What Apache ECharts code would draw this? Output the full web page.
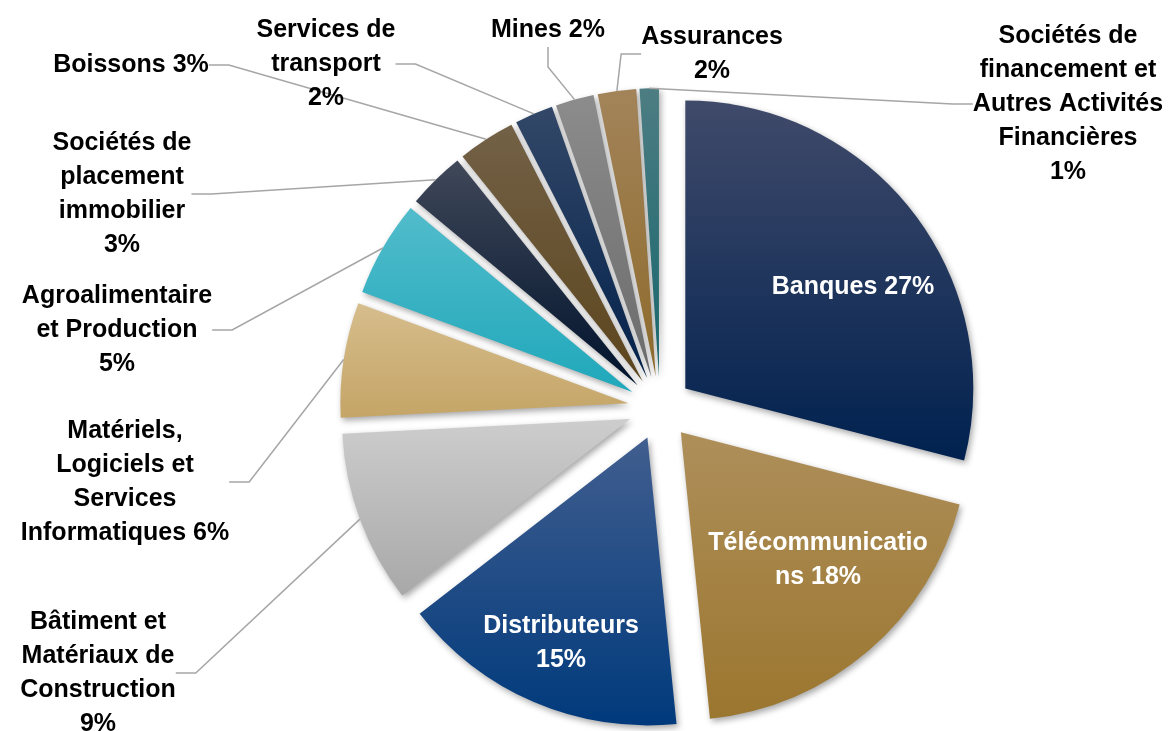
<!DOCTYPE html>
<html>
<head>
<meta charset="utf-8">
<script src="https://cdn.jsdelivr.net/npm/echarts@6/dist/echarts.min.js"></script>
<style>
  html, body { margin: 0; padding: 0; background: #fff; }
  #chart { width: 1168px; height: 731px; }
</style>
</head>
<body>
<div id="chart"></div>
<script>
// sectors, clockwise from 12 o'clock
const categories = [
  'Banques', 'Télécommunications', 'Distributeurs',
  'Bâtiment et Matériaux de Construction',
  'Matériels, Logiciels et Services Informatiques',
  'Agroalimentaire et Production', 'Sociétés de placement immobilier',
  'Boissons', 'Services de transport', 'Mines', 'Assurances',
  'Sociétés de financement et Autres Activités Financières'
]
const shares = [27, 18, 15, 9, 6, 5, 3, 3, 2, 2, 2, 1]

// label text wrapped as in the original (value appended after the separator)
const labelNames = [
  'Banques', 'Télécommunicatio\nns', 'Distributeurs',
  'Bâtiment et\nMatériaux de\nConstruction',
  'Matériels,\nLogiciels et\nServices\nInformatiques',
  'Agroalimentaire\net Production', 'Sociétés de\nplacement\nimmobilier',
  'Boissons', 'Services de\ntransport', 'Mines', 'Assurances',
  'Sociétés de\nfinancement et\nAutres Activités\nFinancières'
]
const valueSep = [' ', ' ', '\n', '\n', ' ', '\n', '\n', ' ', '\n', ' ', '\n', '\n']

// top / bottom colours of each sector gradient
const colors = [
  ['#404a6a', '#00214f'],
  ['#ae8f5a', '#9b762f'],
  ['#415e8f', '#003a7c'],
  ['#cdcdcd', '#a8a8a8'],
  ['#d6bd8c', '#c5a567'],
  ['#52bccb', '#1fa8bb'],
  ['#404859', '#00122c'],
  ['#736147', '#5c451d'],
  ['#334868', '#03214b'],
  ['#8c8c8c', '#6b6b6b'],
  ['#a3845a', '#8d6a2b'],
  ['#4d7d83', '#15666c']
]

// label block centres (px)
const labelPos = [
  [853, 287], [818, 560], [561, 643], [98, 673], [125, 482], [117, 330],
  [122, 194], [131, 65], [326, 64], [548, 30], [712, 54], [1068, 104]
]

const CENTER = [660, 408]
const RADIUS = 288
const EXPLODE = 32

const chart = echarts.init(document.getElementById('chart'))

chart.setOption({
  backgroundColor: '#fff',
  animation: false,
  series: [{
    // exploded sectors
    type: 'pie',
    z: 2,
    center: CENTER,
    radius: [0, RADIUS],
    startAngle: 90,
    selectedMode: 'multiple',
    selectedOffset: EXPLODE,
    silent: true,
    itemStyle: {
      shadowBlur: 6,
      shadowOffsetX: 2,
      shadowOffsetY: 3,
      shadowColor: 'rgba(0, 0, 0, 0.35)'
    },
    label: { show: false },
    labelLine: { show: false },
    data: categories.map((name, i) => ({
      name: name,
      value: shares[i],
      selected: true,
      itemStyle: {
        color: new echarts.graphic.LinearGradient(0, 0, 0, 1, [
          { offset: 0, color: colors[i][0] },
          { offset: 1, color: colors[i][1] }
        ])
      }
    }))
  }, {
    // labels + leader lines over an invisible ring matching the exploded outline
    type: 'pie',
    z: 3,
    center: CENTER,
    radius: [0, RADIUS + EXPLODE],
    startAngle: 90,
    silent: true,
    avoidLabelOverlap: false,
    itemStyle: { color: 'rgba(0,0,0,0)' },
    label: {
      show: true,
      position: 'outside',
      fontFamily: 'Liberation Sans',
      fontWeight: 'bold',
      fontSize: 25,
      lineHeight: 34,
      color: '#000',
      align: 'center',
      formatter: (p) => labelNames[p.dataIndex] + valueSep[p.dataIndex] + p.value + '%'
    },
    labelLine: {
      show: true,
      length: 20,
      length2: 20,
      lineStyle: { color: '#a6a6a6', width: 1.5 }
    },
    labelLayout: (p) => ({
      x: labelPos[p.dataIndex][0],
      y: labelPos[p.dataIndex][1],
      align: 'center',
      verticalAlign: 'middle'
    }),
    data: categories.map((name, i) => ({
      name: name,
      value: shares[i],
      label: i < 3 ? { position: 'inside', color: '#fff' } : {},
      labelLine: i < 3 ? { show: false } : {}
    }))
  }]
})
</script>
</body>
</html>
